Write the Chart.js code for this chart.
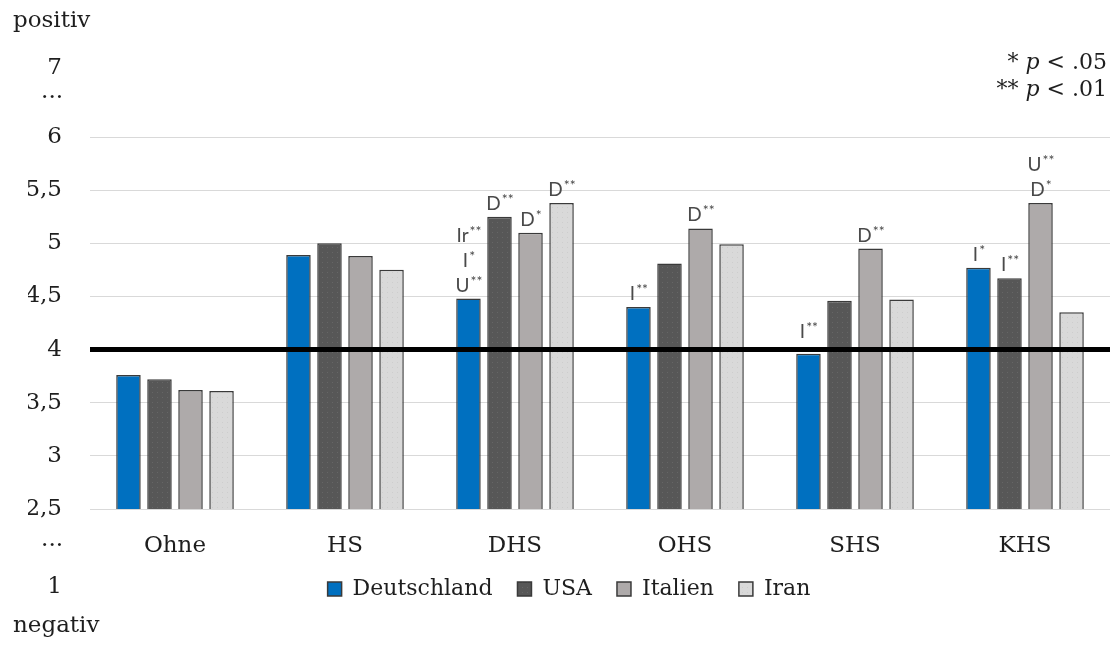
<!DOCTYPE html>
<html lang="de">
<head>
<meta charset="utf-8">
<title>Bewertung nach Hochschultyp</title>
<script src="https://cdn.jsdelivr.net/npm/chart.js@4.4.1/dist/chart.umd.min.js"></script>
<style>
  html, body { margin: 0; padding: 0; background: #ffffff; }
  #wrap { width: 1114px; height: 648px; }
</style>
</head>
<body>
<div id="wrap"><canvas id="chart" width="1114" height="648"></canvas></div>
<script>
// Kategorien (Hochschultypen)
const categories = ['Ohne', 'HS', 'DHS', 'OHS', 'SHS', 'KHS'];

// Mittelwerte je Land
const deutschland = [3.76, 4.89, 4.48, 4.40, 3.96, 4.77];
const usa         = [3.72, 5.00, 5.25, 4.81, 4.46, 4.67];
const italien     = [3.62, 4.88, 5.10, 5.14, 4.95, 5.38];
const iran        = [3.61, 4.75, 5.38, 4.99, 4.47, 4.35];

// Signifikanzkennzeichen je Balken (von unten nach oben gestapelt)
const sigDeutschland = [[], [], ['U**', 'I*', 'Ir**'], ['I**'], ['I**'], ['I*']];
const sigUsa         = [[], [], ['D**'], [], [], ['I**']];
const sigItalien     = [[], [], ['D*'], ['D**'], ['D**'], ['D*', 'U**']];
const sigIran        = [[], [], ['D**'], [], [], []];

// Skalenbeschriftung
const yTicks = [2.5, 3, 3.5, 4, 4.5, 5, 5.5, 6];
const scaleTopLabels = ['7', '...'];
const scaleBottomLabels = ['...', '1'];
const poleLabels = ['positiv', 'negativ'];
const neutralValue = 4;
const pNotes = [['*', '.05'], ['**', '.01']];

const serif = '"DejaVu Serif", "Liberation Serif", serif';
const sans = 'Lato, "Open Sans", "Liberation Sans", sans-serif';
const textColor = '#1e1e1e';

// feine Punktstruktur für die grauen Balken
function dotted(base, dot) {
  const c = document.createElement('canvas');
  c.width = 5; c.height = 5;
  const g = c.getContext('2d');
  g.fillStyle = base; g.fillRect(0, 0, 5, 5);
  g.fillStyle = dot; g.fillRect(2, 2, 1, 1);
  return g.createPattern(c, 'repeat');
}

const sigBySeries = [sigDeutschland, sigUsa, sigItalien, sigIran];

const decorations = {
  id: 'decorations',
  afterDatasetsDraw(chart) {
    const ctx = chart.ctx;
    const y = chart.scales.y;
    const area = chart.chartArea;
    // Neutrallinie
    const yn = y.getPixelForValue(neutralValue);
    ctx.save();
    ctx.strokeStyle = '#000000';
    ctx.lineWidth = 5;
    ctx.beginPath();
    ctx.moveTo(area.left, yn);
    ctx.lineTo(area.right, yn);
    ctx.stroke();
    ctx.restore();

    // Signifikanzkennzeichen über den Balken
    ctx.save();
    ctx.fillStyle = '#4a4a4a';
    ctx.textBaseline = 'alphabetic';
    ctx.textAlign = 'left';
    sigBySeries.forEach((series, di) => {
      const meta = chart.getDatasetMeta(di);
      series.forEach((labels, ci) => {
        if (!labels.length) return;
        const bar = meta.data[ci];
        // Kennzeichen nicht mit der Neutrallinie überlappen lassen
        let baseline = Math.min(bar.y - 7, Math.abs(bar.y - yn) < 14 ? yn - 12 : Infinity);
        labels.forEach(label => {
          const base = label.replace(/\*+$/, '');
          const stars = label.slice(base.length);
          ctx.font = '19px ' + sans;
          const wb = ctx.measureText(base).width;
          ctx.font = '14px ' + sans;
          const ws = ctx.measureText(stars).width;
          const x0 = bar.x - (wb + ws) / 2;
          ctx.font = '19px ' + sans;
          ctx.fillText(base, x0, baseline);
          ctx.font = '14px ' + sans;
          ctx.fillText(stars, x0 + wb + 1, baseline - 6);
          baseline -= 25;
        });
      });
    });
    ctx.restore();
  },
  afterDraw(chart) {
    const ctx = chart.ctx;
    ctx.save();
    ctx.fillStyle = textColor;
    ctx.font = '23px ' + serif;
    ctx.textBaseline = 'middle';
    // Pole der Skala
    ctx.textAlign = 'left';
    ctx.fillText(poleLabels[0], 13, 21);
    ctx.fillText(poleLabels[1], 13, 626);
    // ausgelassene Skalenwerte
    ctx.textAlign = 'right';
    ctx.fillText(scaleTopLabels[0], 62, 68);
    ctx.fillText(scaleTopLabels[1], 63, 92);
    ctx.fillText(scaleBottomLabels[0], 63, 540);
    ctx.fillText(scaleBottomLabels[1], 62, 587);

    // Signifikanzniveaus
    ctx.textBaseline = 'alphabetic';
    ctx.textAlign = 'left';
    const right = 1107;
    pNotes.forEach((note, i) => {
      const baseline = 69 + i * 27;
      const parts = [
        [note[0] + ' ', '22px ' + serif],
        ['p', 'italic 22px ' + serif],
        [' < ' + note[1], '22px ' + serif]
      ];
      let total = 0;
      parts.forEach(p => { ctx.font = p[1]; total += ctx.measureText(p[0]).width; });
      let x = right - total;
      parts.forEach(p => {
        ctx.font = p[1];
        ctx.fillText(p[0], x, baseline);
        x += ctx.measureText(p[0]).width;
      });
    });
    ctx.restore();
  }
};

const borderCol = '#3a3a3a';

new Chart(document.getElementById('chart'), {
  type: 'bar',
  data: {
    labels: categories,
    datasets: [
      { label: 'Deutschland', data: deutschland, backgroundColor: '#0070C0', borderColor: borderCol, borderWidth: 1.5 },
      { label: 'USA', data: usa, backgroundColor: dotted('#575757', '#666666'), borderColor: borderCol, borderWidth: 1.5 },
      { label: 'Italien', data: italien, backgroundColor: '#AEAAAA', borderColor: borderCol, borderWidth: 1.5 },
      { label: 'Iran', data: iran, backgroundColor: dotted('#D9D9D9', '#CDCDCD'), borderColor: borderCol, borderWidth: 1.5 }
    ]
  },
  options: {
    responsive: false,
    animation: false,
    devicePixelRatio: 1,
    layout: { padding: { top: 137, right: 4, left: 28, bottom: 38 } },
    datasets: { bar: { categoryPercentage: 0.73, barPercentage: 0.79 } },
    scales: {
      y: {
        min: 2.5,
        max: 6,
        afterFit(scale) { scale.width = 62; },
        afterBuildTicks(scale) { scale.ticks = yTicks.map(v => ({ value: v })); },
        ticks: {
          padding: 28,
          color: textColor,
          font: { family: serif, size: 23 },
          callback: v => String(v).replace('.', ',')
        },
        grid: { color: '#d9d9d9', lineWidth: 1, drawTicks: false },
        border: { display: false }
      },
      x: {
        afterFit(scale) { scale.height = 44; },
        ticks: {
          padding: 23,
          color: textColor,
          font: { family: serif, size: 23 }
        },
        grid: { display: false, drawTicks: false },
        border: { display: false }
      }
    },
    plugins: {
      legend: {
        position: 'bottom',
        labels: {
          boxWidth: 14,
          boxHeight: 14,
          padding: 25,
          color: textColor,
          font: { family: serif, size: 22 }
        }
      },
      tooltip: { enabled: false }
    }
  },
  plugins: [decorations]
});
</script>
</body>
</html>
